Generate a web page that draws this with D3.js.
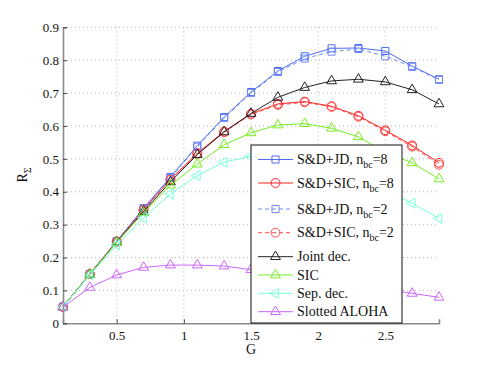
<!DOCTYPE html>
<html>
<head>
<meta charset="utf-8">
<script src="https://cdn.jsdelivr.net/npm/d3@7"></script>
<style>
    body { margin: 0; background: #fff; }
    svg text { fill: #111; }
    .grid line { stroke: #b8b8b8; stroke-dasharray: 1,3; }
    .axis path.domain { stroke: #8a8a8a; stroke-width: 1.6; }
    .axis .tick line { stroke: #444; }
</style>
</head>
<body>
<svg id="chart" width="485" height="365"></svg>
<script>
// offered load G (x values)
const gValues = [0.1, 0.3, 0.5, 0.7, 0.9, 1.1, 1.3, 1.5, 1.7, 1.9, 2.1, 2.3, 2.5, 2.7, 2.9];

// throughput R_sigma per scheme
const sdJd8  = [0.050, 0.150, 0.250, 0.350, 0.445, 0.540, 0.627, 0.703, 0.767, 0.812, 0.836, 0.837, 0.828, 0.782, 0.742];
const sdSic8 = [0.050, 0.150, 0.249, 0.346, 0.438, 0.517, 0.583, 0.637, 0.667, 0.674, 0.660, 0.631, 0.587, 0.541, 0.488];
const sdJd2  = [0.050, 0.149, 0.249, 0.348, 0.442, 0.537, 0.624, 0.700, 0.764, 0.805, 0.826, 0.834, 0.812, 0.780, 0.740];
const sdSic2 = [0.050, 0.149, 0.248, 0.344, 0.436, 0.515, 0.581, 0.635, 0.664, 0.672, 0.658, 0.628, 0.584, 0.537, 0.482];
const jointDec = [0.050, 0.149, 0.247, 0.340, 0.430, 0.513, 0.582, 0.638, 0.687, 0.717, 0.737, 0.742, 0.734, 0.710, 0.667];
const sicDec   = [0.050, 0.149, 0.246, 0.336, 0.420, 0.484, 0.543, 0.579, 0.603, 0.607, 0.593, 0.567, 0.520, 0.488, 0.439];
const sepDec   = [0.050, 0.147, 0.238, 0.320, 0.393, 0.449, 0.490, 0.508, 0.513, 0.507, 0.487, 0.448, 0.405, 0.365, 0.319];
const aloha    = [0.049, 0.109, 0.147, 0.170, 0.177, 0.177, 0.174, 0.163, 0.152, 0.140, 0.128, 0.116, 0.104, 0.091, 0.079];

// ticks
const xTicks = [0.5, 1, 1.5, 2, 2.5];
const yTicks = [0, 0.1, 0.2, 0.3, 0.4, 0.5, 0.6, 0.7, 0.8, 0.9];

const serif = "'Liberation Serif', Tinos, 'Times New Roman', 'DejaVu Serif', serif";

// legend names: [main text, subscript, after subscript]
const series = [
    {label: ["S&D+JD, n", "bc", "=8"],  vals: sdJd8,  color: "#4d6cf5", marker: "square",   dash: null},
    {label: ["S&D+SIC, n", "bc", "=8"], vals: sdSic8, color: "#ff2222", marker: "circle",   dash: null},
    {label: ["S&D+JD, n", "bc", "=2"],  vals: sdJd2,  color: "#6f88f7", marker: "square",   dash: "4,3"},
    {label: ["S&D+SIC, n", "bc", "=2"], vals: sdSic2, color: "#ff4d4d", marker: "circle",   dash: "4,3"},
    {label: ["Joint dec."],             vals: jointDec, color: "#222222", marker: "triangle", dash: null},
    {label: ["SIC"],                    vals: sicDec, color: "#77ee22", marker: "triangle", dash: null},
    {label: ["Sep. dec."],              vals: sepDec, color: "#77ffdd", marker: "left",     dash: null},
    {label: ["Slotted ALOHA"],          vals: aloha,  color: "#cc66ff", marker: "triangle", dash: null}
];

let svg = d3.select("#chart");
let plot = {left: 63, right: 439, top: 27.3, bottom: 323.3};

let x = d3.scaleLinear().domain([0.1, 2.9]).range([plot.left, plot.right]);
let y = d3.scaleLinear().domain([0, 0.9]).range([plot.bottom, plot.top]);

// dotted grid
let grid = svg.append("g").attr("class", "grid");
grid.selectAll(".gx").data(xTicks).enter().append("line")
    .attr("x1", d => x(d)).attr("x2", d => x(d))
    .attr("y1", plot.top).attr("y2", plot.bottom);
grid.selectAll(".gy").data(yTicks.filter(d => d > 0)).enter().append("line")
    .attr("x1", plot.left).attr("x2", plot.right)
    .attr("y1", d => y(d)).attr("y2", d => y(d));

// axes, ticks pointing inward like matlab
let xAxis = d3.axisBottom(x).tickValues(xTicks).tickSize(-4).tickPadding(7)
    .tickFormat(d3.format("~g"));
svg.append("g").attr("class", "axis")
    .attr("transform", "translate(0," + plot.bottom + ")")
    .call(xAxis)
    .call(g => g.selectAll("text").style("font-family", serif).style("font-size", "13px"));

let yAxis = d3.axisLeft(y).tickValues(yTicks).tickSize(-4).tickPadding(4)
    .tickFormat(d3.format("~g"));
svg.append("g").attr("class", "axis")
    .attr("transform", "translate(" + plot.left + ",0)")
    .call(yAxis)
    .call(g => g.selectAll("text").style("font-family", serif).style("font-size", "13px"));

// axis titles
svg.append("text").attr("x", (plot.left + plot.right) / 2).attr("y", 354)
    .attr("text-anchor", "middle").style("font-family", serif).style("font-size", "14px").text("G");
let ylab = svg.append("text")
    .attr("transform", "translate(27,175) rotate(-90)")
    .attr("text-anchor", "middle").style("font-family", serif).style("font-size", "14px");
ylab.append("tspan").text("R");
ylab.append("tspan").attr("dy", 4).style("font-size", "10px").text("Σ");

// marker path generator
function markerPath(type) {
    if (type === "square") return d3.symbol().type(d3.symbolSquare).size(50)();
    if (type === "circle") return d3.symbol().type(d3.symbolCircle).size(62)();
    return d3.symbol().type(d3.symbolTriangle).size(42)();
}

let line = d3.line()
    .x((d, i) => x(gValues[i]))
    .y(d => y(d));

series.forEach(function (s) {
    let g = svg.append("g");
    g.append("path")
        .attr("d", line(s.vals))
        .attr("fill", "none")
        .attr("stroke", s.color)
        .attr("stroke-width", 1)
        .attr("stroke-dasharray", s.dash);
    g.selectAll("path.mk").data(s.vals).enter().append("path")
        .attr("class", "mk")
        .attr("d", markerPath(s.marker))
        .attr("transform", (d, i) => "translate(" + x(gValues[i]) + "," + y(d) + ")" +
            (s.marker === "left" ? " rotate(-90)" : ""))
        .attr("fill", "none")
        .attr("stroke", s.color)
        .attr("stroke-width", 1);
});

// legend box
let legend = svg.append("g");
legend.append("rect")
    .attr("x", 251).attr("y", 145).attr("width", 151).attr("height", 178)
    .attr("fill", "#fff").attr("stroke", "#111").attr("stroke-width", 1);

let rowY = [159.5, 183, 209, 232.7, 256.7, 275, 293.3, 311.7];
series.forEach(function (s, i) {
    let ly = rowY[i];
    legend.append("line")
        .attr("x1", 258).attr("x2", 293).attr("y1", ly).attr("y2", ly)
        .attr("stroke", s.color).attr("stroke-width", 1)
        .attr("stroke-dasharray", s.dash);
    legend.append("path")
        .attr("d", markerPath(s.marker))
        .attr("transform", "translate(275.5," + ly + ")" + (s.marker === "left" ? " rotate(-90)" : ""))
        .attr("fill", "none").attr("stroke", s.color);
    let t = legend.append("text").attr("x", 297).attr("y", ly + 4.5)
        .style("font-family", serif).style("font-size", "14px");
    t.append("tspan").text(s.label[0]);
    if (s.label.length > 1) {
        t.append("tspan").attr("dy", 4).style("font-size", "10px").text(s.label[1]);
        t.append("tspan").attr("dy", -4).text(s.label[2]);
    }
});
</script>
</body>
</html>
